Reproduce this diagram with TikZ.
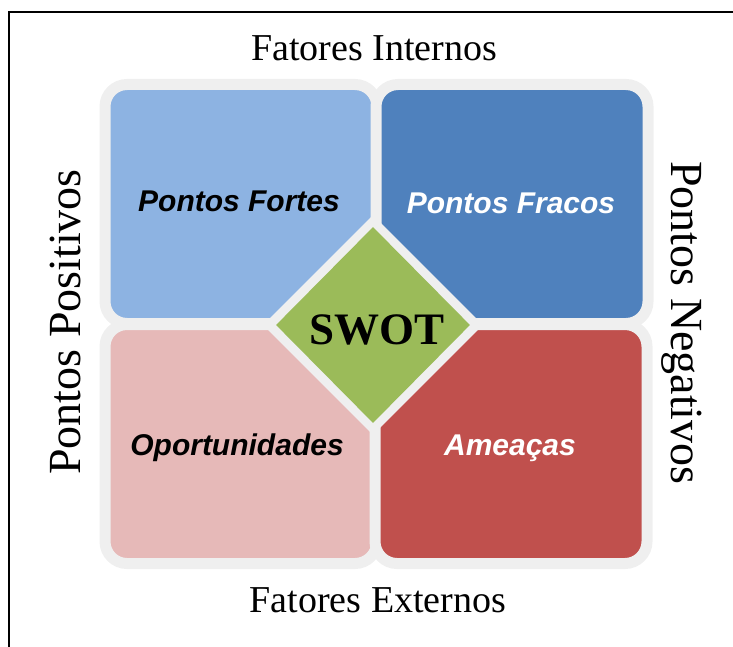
\documentclass[tikz,border=0pt]{standalone}
\usepackage{fontspec}
\setmainfont{Liberation Serif}
\setsansfont{Liberation Sans}
\usetikzlibrary{shapes.geometric}
\definecolor{bordergray}{HTML}{EFEFEF}
\definecolor{pfblue}{HTML}{8DB3E2}
\definecolor{pfrblue}{HTML}{4F81BD}
\definecolor{oppink}{HTML}{E6B9B8}
\definecolor{amred}{HTML}{C0504D}
\definecolor{swgreen}{HTML}{9BBB59}
\tikzset{
  quad/.style={rectangle, rounded corners=22pt, draw=bordergray, line width=11pt,
    minimum width=272pt, minimum height=239pt, inner sep=0pt},
  quadtext/.style={font=\fontsize{30}{30}\selectfont\sffamily\bfseries\itshape, inner sep=0pt},
  axislabel/.style={font=\fontsize{38}{38}\selectfont, inner sep=0pt},
  sidelabel/.style={font=\fontsize{46}{46}\selectfont, inner sep=0pt},
  framerule/.style={line width=2.5pt, black}
}
\begin{document}
\begin{tikzpicture}[x=1pt,y=-1pt]
\useasboundingbox (0,0) rectangle (733,647);
% frame
\coordinate (ftr) at (733,12);
\coordinate (ftl) at (9,12);
\coordinate (fbl) at (9,647);
\draw[framerule] (ftr) -- (ftl) -- (fbl);
% quadrants
\node[quad, fill=pfblue] (pf) at (241,204) {};
\node[quad, fill=pfrblue] (pfr) at (512,204) {};
\node[quad, fill=oppink] (op) at (241,444) {};
\node[quad, fill=amred] (am) at (511,444) {};
% texts in quadrants
\node[quadtext, text=black] (tpf) at (239,201) {Pontos Fortes};
\node[quadtext, text=white] (tpfr) at (511,203) {Pontos Fracos};
\node[quadtext, text=black] (top) at (237,448) {Oportunidades};
\node[quadtext, text=white] (tam) at (510,448) {Ameaças};
% diamond
\node[diamond, fill=bordergray, minimum width=220pt, minimum height=220pt, inner sep=0pt] (swotbg) at (373,325) {};
\node[diamond, fill=swgreen, minimum width=194pt, minimum height=196pt, inner sep=0pt,
  font=\fontsize{45}{45}\selectfont\bfseries] (swot) at (373,325) {};
\node[font=\fontsize{45}{45}\selectfont\bfseries, inner sep=0pt] (swottext) at (377,330) {SWOT};
% axis labels
\node[axislabel] (fi) at (374,48) {Fatores Internos};
\node[axislabel] (fe) at (378,600) {Fatores Externos};
\node[sidelabel, rotate=90] (pp) at (65,322) {Pontos Positivos};
\node[sidelabel, rotate=-90] (pn) at (682,323) {Pontos Negativos};
\end{tikzpicture}
\end{document}
